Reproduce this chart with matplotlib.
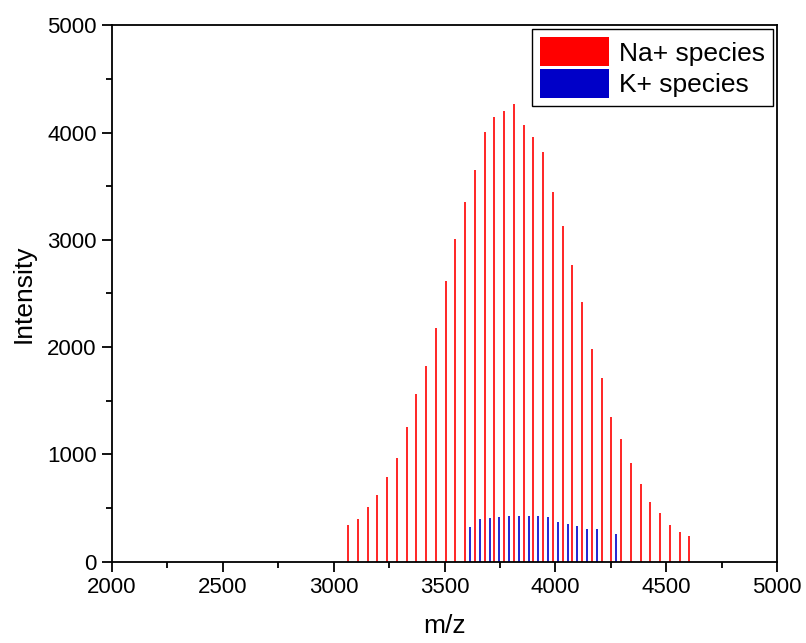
import matplotlib
matplotlib.use('Agg')
import matplotlib.pyplot as plt
import matplotlib.patches as mpatches
from matplotlib.ticker import MultipleLocator

plt.rcParams['font.family'] = ['Liberation Sans', 'DejaVu Sans']

# Na+ series: peaks every ~44 Da
na_start = 3065
na_step = 44
na_intensity = [341, 397, 509, 621, 790, 970, 1257, 1559, 1821, 2176,
                2615, 3005, 3353, 3650, 4002, 4142, 4204, 4266, 4073, 3964,
                3824, 3444, 3126, 2764, 2425, 1986, 1708, 1350, 1142, 920,
                721, 553, 456, 341, 279, 238]
na_mz = [na_start + na_step * i for i in range(len(na_intensity))]

# K+ series
k_mz = [3615, 3659, 3703, 3747, 3791, 3835, 3879, 3923, 3967, 4011,
        4055, 4099, 4143, 4187, 4275]
k_intensity = [326, 395, 404, 419, 428, 428, 428, 428, 416, 369,
               351, 332, 307, 307, 257]

red = '#FF0000'
blue = '#0000C8'

fig = plt.figure(figsize=(8.06, 6.43), dpi=100)
ax = fig.add_axes([0.139, 0.1267, 0.825, 0.8337])

ax.vlines(na_mz, 0, na_intensity, color=red, linewidth=1.2)
ax.vlines(k_mz, 0, k_intensity, color=blue, linewidth=1.2)

ax.set_xlim(2000, 5000)
ax.set_ylim(0, 5000)
ax.xaxis.set_major_locator(MultipleLocator(500))
ax.xaxis.set_minor_locator(MultipleLocator(250))
ax.yaxis.set_major_locator(MultipleLocator(1000))
ax.yaxis.set_minor_locator(MultipleLocator(500))
ax.tick_params(which='both', direction='out', top=False, right=False,
               labelsize=16, width=1.3, colors='black')
ax.tick_params(which='major', length=7, pad=4)
ax.tick_params(which='minor', length=4)
for s in ax.spines.values():
    s.set_linewidth(1.3)

ax.set_xlabel('m/z', fontsize=19, labelpad=12)
ax.set_ylabel('Intensity', fontsize=19, labelpad=8)

handles = [mpatches.Patch(facecolor=red, edgecolor='none', label='Na+ species'),
           mpatches.Patch(facecolor=blue, edgecolor='none', label='K+ species')]
leg = ax.legend(handles=handles, loc='upper right', fontsize=19,
                frameon=True, fancybox=False, edgecolor='black',
                handlelength=2.6, handleheight=1.3, handletextpad=0.4,
                labelspacing=0.12, borderpad=0.3, borderaxespad=0.15)
leg.get_frame().set_linewidth(1.0)
leg.get_frame().set_alpha(None)

fig.savefig('out.png', dpi=100)
